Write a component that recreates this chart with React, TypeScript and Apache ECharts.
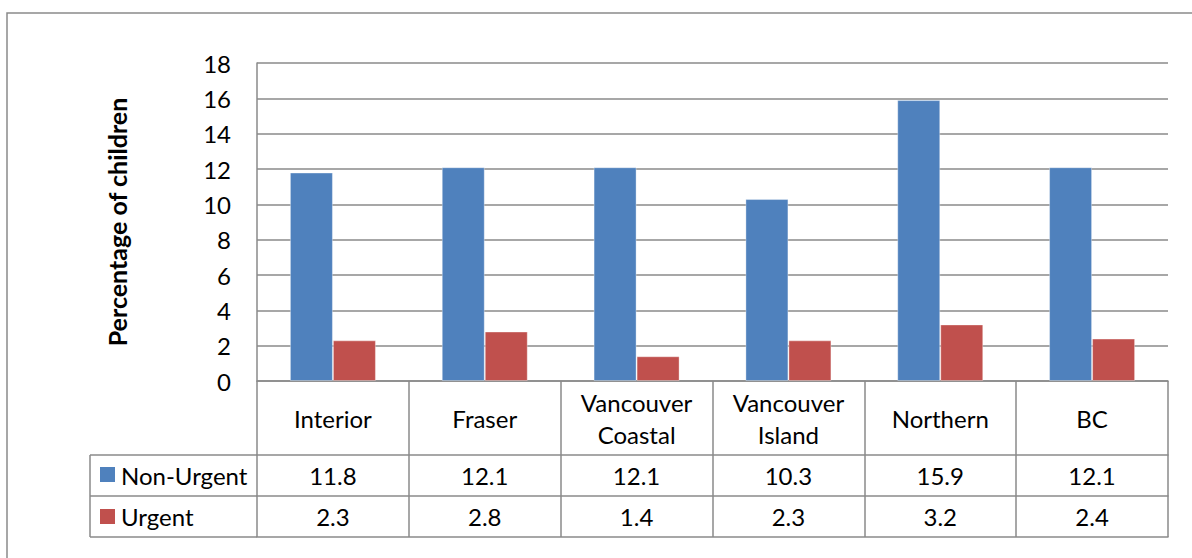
import React, { useEffect, useRef } from "react";
import * as echarts from "echarts";

const categories = ["Interior", "Fraser", "Vancouver\nCoastal", "Vancouver\nIsland", "Northern", "BC"];
const seriesNames = ["Non-Urgent", "Urgent"];
const nonUrgent = [11.8, 12.1, 12.1, 10.3, 15.9, 12.1];
const urgent = [2.3, 2.8, 1.4, 2.3, 3.2, 2.4];
const yTicks = { min: 0, max: 18, interval: 2 };
const yTitle = "Percentage of children";

const W = 1192;
const H = 558;
const FONT = "Lato, 'Noto Sans', sans-serif";
const LINE = "#8a8a8a";
const BLUE = "#4F81BD";
const RED = "#C0504D";
const FS = 24;

// layout
const G_LEFT = 257;
const G_TOP = 63;
const G_RIGHT = 1168;
const G_BOTTOM = 381;
const HEADER_H = 74;
const ROW_H = 41;
const LEG_LEFT = 90;

export default function App() {
  const ref = useRef<HTMLDivElement>(null);
  useEffect(() => {
    document.body.style.margin = "0";
    const chart = echarts.init(ref.current!, null, { renderer: "svg" });
    const rowY1 = G_BOTTOM + HEADER_H;
    const rowY2 = rowY1 + ROW_H;
    const rowY3 = rowY2 + ROW_H;
    const lineStyle = { color: LINE, width: 1.5 };
    const baseX = {
      type: "category" as const,
      data: categories,
      gridIndex: 0,
      position: "bottom" as const,
      axisLine: { show: true, lineStyle },
      axisTick: { show: true, interval: 0, alignWithLabel: false, lineStyle },
      splitLine: { show: false },
    };
    const option: any = {
      animation: false,
      backgroundColor: "#fff",
      textStyle: { fontFamily: FONT },
      grid: { left: G_LEFT, top: G_TOP, width: G_RIGHT - G_LEFT, height: G_BOTTOM - G_TOP, containLabel: false },
      xAxis: [
        {
          ...baseX,
          axisTick: { ...baseX.axisTick, length: HEADER_H },
          axisLabel: {
            interval: 0,
            margin: HEADER_H / 2,
            verticalAlign: "middle",
            fontSize: FS,
            lineHeight: 32,
            color: "#000",
            fontFamily: FONT,
          },
        },
        {
          ...baseX,
          offset: HEADER_H,
          axisTick: { ...baseX.axisTick, length: ROW_H },
          axisLabel: {
            interval: 0,
            margin: ROW_H / 2,
            verticalAlign: "middle",
            fontSize: FS,
            color: "#000",
            fontFamily: FONT,
            formatter: (_v: string, i: number) => nonUrgent[i].toFixed(1),
          },
        },
        {
          ...baseX,
          offset: HEADER_H + ROW_H,
          axisTick: { ...baseX.axisTick, length: ROW_H },
          axisLabel: {
            interval: 0,
            margin: ROW_H / 2,
            verticalAlign: "middle",
            fontSize: FS,
            color: "#000",
            fontFamily: FONT,
            formatter: (_v: string, i: number) => urgent[i].toFixed(1),
          },
        },
        {
          ...baseX,
          offset: HEADER_H + ROW_H * 2,
          axisTick: { show: false },
          axisLabel: { show: false },
        },
      ],
      yAxis: {
        type: "value",
        min: yTicks.min,
        max: yTicks.max,
        interval: yTicks.interval,
        name: yTitle,
        nameLocation: "middle",
        nameRotate: 90,
        nameGap: 128,
        nameTextStyle: { fontSize: 25, fontWeight: "bold", color: "#000", fontFamily: FONT },
        axisLine: { show: true, lineStyle },
        axisTick: { show: false },
        axisLabel: { fontSize: FS, color: "#000", margin: 26, fontFamily: FONT },
        splitLine: { show: true, lineStyle },
      },
      series: [
        {
          name: seriesNames[0],
          type: "bar",
          data: nonUrgent,
          barWidth: 43,
          barGap: "0%",
          itemStyle: { color: BLUE, borderColor: "rgba(255,255,255,0.35)", borderWidth: 1 },
        },
        {
          name: seriesNames[1],
          type: "bar",
          data: urgent,
          barWidth: 43,
          barGap: "0%",
          itemStyle: { color: RED, borderColor: "rgba(255,255,255,0.35)", borderWidth: 1 },
        },
      ],
      graphic: [
        {
          type: "rect",
          shape: { x: 7, y: 13, width: 1400, height: 800 },
          style: { fill: "none", stroke: LINE, lineWidth: 1.5 },
          silent: true,
        },
        { type: "line", shape: { x1: LEG_LEFT, y1: rowY1, x2: G_LEFT, y2: rowY1 }, style: { stroke: LINE, lineWidth: 1.5 } },
        { type: "line", shape: { x1: LEG_LEFT, y1: rowY2, x2: G_LEFT, y2: rowY2 }, style: { stroke: LINE, lineWidth: 1.5 } },
        { type: "line", shape: { x1: LEG_LEFT, y1: rowY3, x2: G_LEFT, y2: rowY3 }, style: { stroke: LINE, lineWidth: 1.5 } },
        { type: "line", shape: { x1: LEG_LEFT, y1: rowY1, x2: LEG_LEFT, y2: rowY3 }, style: { stroke: LINE, lineWidth: 1.5 } },
        { type: "rect", shape: { x: 100, y: rowY1 + 12, width: 15, height: 15 }, style: { fill: BLUE } },
        { type: "rect", shape: { x: 100, y: rowY2 + 13, width: 15, height: 15 }, style: { fill: RED } },
        {
          type: "text",
          x: 121,
          y: rowY1 + ROW_H / 2,
          style: { text: seriesNames[0], fontSize: FS, fontFamily: FONT, fill: "#000", verticalAlign: "middle", align: "left" },
        },
        {
          type: "text",
          x: 121,
          y: rowY2 + ROW_H / 2,
          style: { text: seriesNames[1], fontSize: FS, fontFamily: FONT, fill: "#000", verticalAlign: "middle", align: "left" },
        },
      ],
    };
    chart.setOption(option);
    return () => chart.dispose();
  }, []);
  return <div ref={ref} style={{ width: W, height: H }} />;
}
